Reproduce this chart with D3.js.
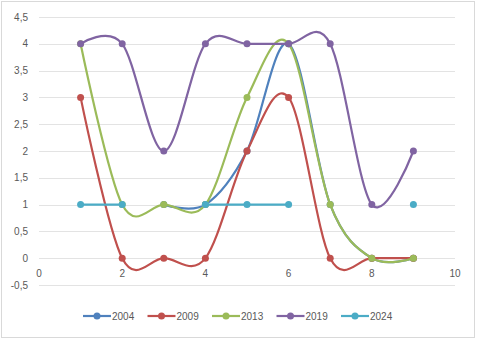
<!DOCTYPE html>
<html>
<head>
<meta charset="utf-8">
<script src="https://cdn.jsdelivr.net/npm/d3@7"></script>
<style>
    body { margin: 0; background: #fff; }
    .tick-label { font-family: "Liberation Sans", Arial, sans-serif; font-size: 10px; fill: #595959; }
    .legend-label { font-family: "Liberation Sans", Arial, sans-serif; font-size: 10px; fill: #595959; }
</style>
</head>
<body>
<div id="chart"></div>
<script>

// x positions of the points
const xValues = [1, 2, 3, 4, 5, 6, 7, 8, 9];

// series values (null = no point)
const years = ["2004", "2009", "2013", "2019", "2024"];
const values2004 = [null, null, 1, 1, 2, 4, 1, 0, 0];
const values2009 = [3, 0, 0, 0, 2, 3, 0, 0, 0];
const values2013 = [4, 1, 1, 1, 3, 4, 1, 0, 0];
const values2019 = [4, 4, 2, 4, 4, 4, 4, 1, 2];
const values2024 = [1, 1, null, 1, 1, 1, null, null, 1];

const colors = ["#4F81BD", "#C0504D", "#9BBB59", "#8064A2", "#4BACC6"];

// tick labels
const yTicks = [-0.5, 0, 0.5, 1, 1.5, 2, 2.5, 3, 3.5, 4, 4.5];
const xTicks = [0, 2, 4, 6, 8, 10];

const series = [values2004, values2009, values2013, values2019, values2024].map(function (vals, i) {
    return {
        name: years[i],
        color: colors[i],
        points: xValues.map(function (x, j) { return {x: x, y: vals[j]}; })
    };
});

let width = 477, height = 341;

let svg = d3.select("#chart").append("svg")
    .attr("width", width)
    .attr("height", height);

// chart border
svg.append("rect")
    .attr("x", 1.5).attr("y", 1.5)
    .attr("width", 473).attr("height", 336)
    .attr("fill", "#fff")
    .attr("stroke", "#d9d9d9");

// Scales
let x = d3.scaleLinear().domain([0, 10]).range([39, 455]);
let y = d3.scaleLinear().domain([-0.5, 4.5]).range([285, 17]);

// Gridlines
svg.append("g").selectAll("line")
    .data(yTicks)
    .enter().append("line")
    .attr("x1", x(0)).attr("x2", x(10))
    .attr("y1", d => Math.round(y(d)) + 0.5)
    .attr("y2", d => Math.round(y(d)) + 0.5)
    .attr("stroke", "#e3e3e3")
    .attr("stroke-width", 1);

// Y labels
svg.append("g").selectAll("text")
    .data(yTicks)
    .enter().append("text")
    .attr("class", "tick-label")
    .attr("x", 28)
    .attr("y", d => y(d))
    .attr("dy", "0.35em")
    .attr("text-anchor", "end")
    .text(d => String(d).replace(".", ","));

// X labels (axis crosses at y = 0)
svg.append("g").selectAll("text")
    .data(xTicks)
    .enter().append("text")
    .attr("class", "tick-label")
    .attr("x", d => x(d))
    .attr("y", y(0) + 19)
    .attr("text-anchor", "middle")
    .text(d => d);

// Smoothed lines
let line = d3.line()
    .defined(d => d.y !== null)
    .x(d => x(d.x))
    .y(d => y(d.y))
    .curve(d3.curveCatmullRom.alpha(0));

series.forEach(function (s) {
    svg.append("path")
        .datum(s.points)
        .attr("fill", "none")
        .attr("stroke", s.color)
        .attr("stroke-width", 2.2)
        .attr("d", line);

    svg.append("g").selectAll("circle")
        .data(s.points.filter(d => d.y !== null))
        .enter().append("circle")
        .attr("cx", d => x(d.x))
        .attr("cy", d => y(d.y))
        .attr("r", 3.5)
        .attr("fill", s.color);
});

// Legend
let legendX = d3.scalePoint().domain(years).range([97, 355]);
let legend = svg.append("g").selectAll("g")
    .data(series)
    .enter().append("g")
    .attr("transform", d => "translate(" + legendX(d.name) + ",316)");

legend.append("line")
    .attr("x1", -14).attr("x2", 14)
    .attr("stroke", d => d.color)
    .attr("stroke-width", 2.2);

legend.append("circle")
    .attr("r", 3.5)
    .attr("fill", d => d.color);

legend.append("text")
    .attr("class", "legend-label")
    .attr("x", 15)
    .attr("dy", "0.35em")
    .text(d => d.name);

</script>
</body>
</html>
